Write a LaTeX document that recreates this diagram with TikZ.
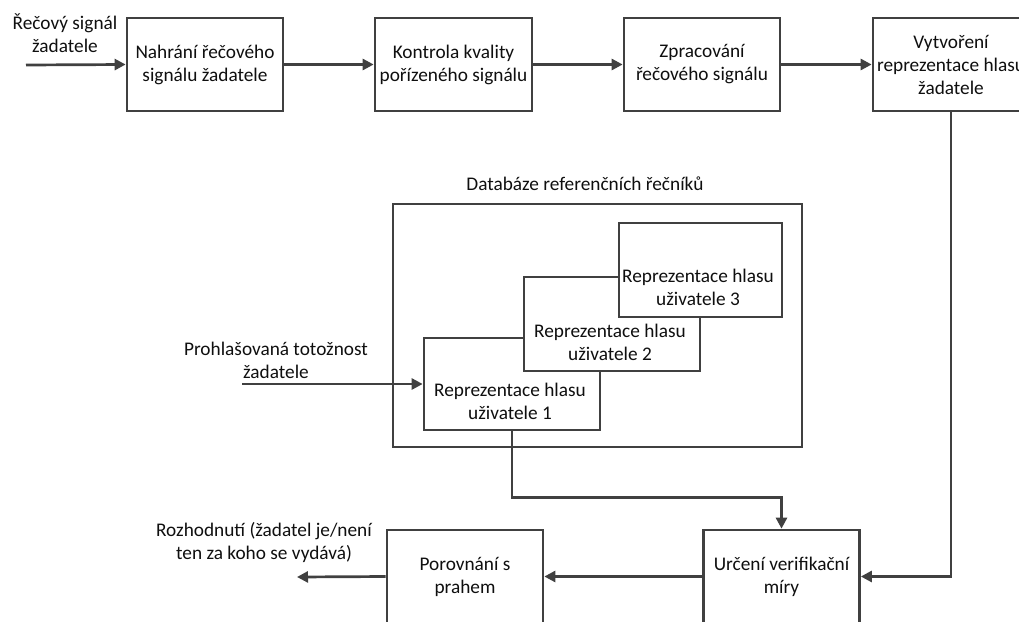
\documentclass[tikz,border=0pt]{standalone}
\usepackage{fontspec}
\setmainfont{Carlito}
\usetikzlibrary{arrows.meta,calc}
\definecolor{linegray}{RGB}{64,64,64}
\definecolor{textgray}{RGB}{15,15,15}
\begin{document}
\begin{tikzpicture}[x=1pt,y=-1pt,
  every node/.style={font=\fontsize{19.3pt}{23pt}\selectfont, text=textgray},
  stage/.style={draw=linegray, line width=2.7pt, fill=white, align=center,
    inner sep=0pt, minimum width=156pt, minimum height=93pt},
  userbox/.style={draw=linegray, line width=2.7pt, fill=white, inner sep=0pt},
  lbl/.style={align=center, inner sep=0pt},
  flow/.style={draw=linegray, line width=2.7pt,
    -{Triangle[length=11pt,width=11pt]}},
  wire/.style={draw=linegray, line width=2.7pt}]
\useasboundingbox (0,0) rectangle (1019,621);
\clip (0,0) rectangle (1019,621);

% upper processing chain
\node[stage] (rec)  at (205,64.5)   {Nahrání řečového\\signálu žadatele};
\node[stage, minimum width=157pt] (qual) at (453.5,64.5) {Kontrola kvality\\pořízeného signálu};
\node[stage] (proc) at (702,64.5)   {Zpracování\\řečového signálu};
\node[stage] (model) at (951,64.5)  {Vytvoření\\reprezentace hlasu\\žadatele};

\coordinate (in) at (26,65);
\node[lbl] (inlbl) at (65,33) {Řečový signál\\žadatele};

\draw[flow] (in) -- (rec.west);
\draw[flow] (rec.east) -- (qual.west);
\draw[flow] (qual.east) -- (proc.west);
\draw[flow] (proc.east) -- (model.west);

% reference speaker database
\node[draw=linegray, line width=2.7pt, inner sep=0pt,
  minimum width=409pt, minimum height=243pt] (db) at (597.5,325.5) {};
\node[lbl] (dblbl) at (585,184) {Databáze referenčních řečníků};

\node[userbox, minimum width=176pt, minimum height=92pt] (u1) at (512,384) {};
\node[userbox, minimum width=176pt, minimum height=94pt] (u2) at (612,324) {};
\node[userbox, minimum width=163pt, minimum height=94pt] (u3) at (700.5,270) {};
\node[lbl] (u1t) at (510,401) {Reprezentace hlasu\\uživatele 1};
\node[lbl] (u2t) at (610,342) {Reprezentace hlasu\\uživatele 2};
\node[lbl] (u3t) at (698,287) {Reprezentace hlasu\\uživatele 3};

\coordinate (claim) at (242,384);
\node[lbl] (claimlbl) at (276,360) {Prohlašovaná totožnost\\žadatele};
\draw[flow] (claim) -- (u1.west);

% decision stages
\node[stage] (score) at (781.5,576.5) {Určení verifikační\\míry};
\node[stage] (thr)   at (465,576.5)   {Porovnání s\\prahem};

\coordinate (out) at (297,577);
\node[lbl] (outlbl) at (264,542) {Rozhodnutí (žadatel je/není\\ten za koho se vydává)};

\draw[flow] (model.south) |- (score.east);
\draw[flow] (u1.south) -- ++(0,66) -| (score.north);
\draw[flow] (score.west) -- (thr.east);
\draw[flow] (thr.west) -- (out);
\end{tikzpicture}
\end{document}
